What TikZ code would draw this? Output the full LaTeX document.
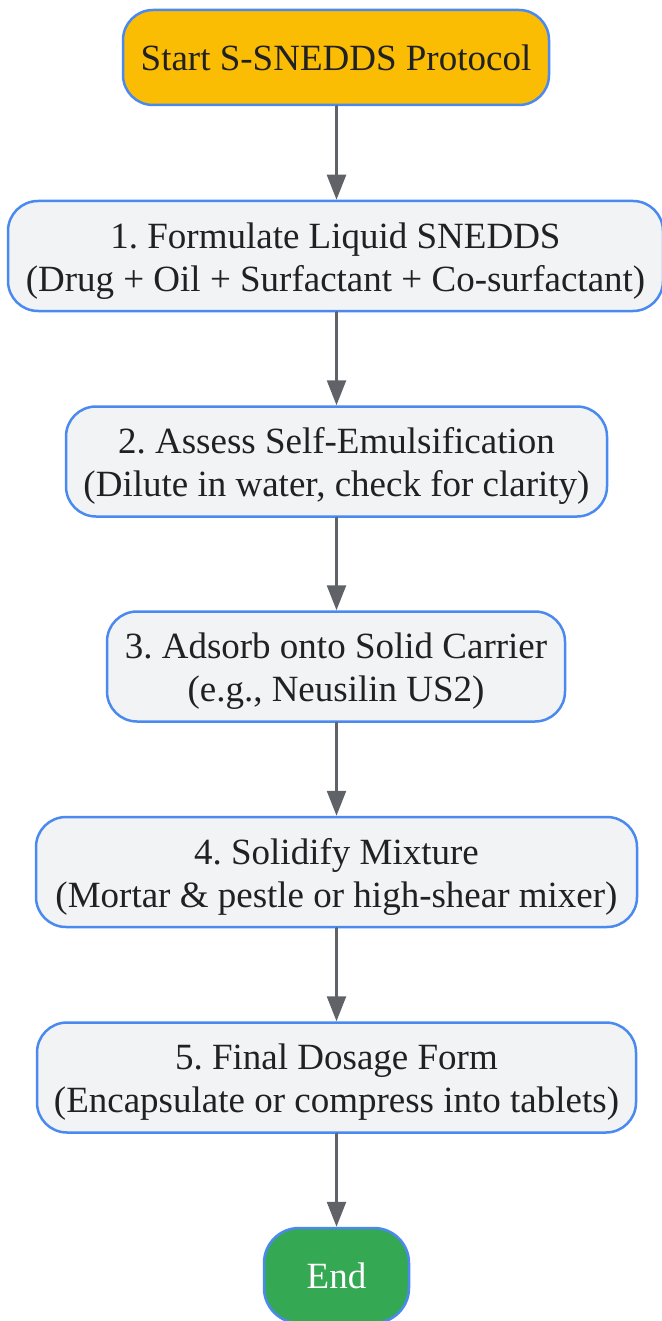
\documentclass[tikz,border=0pt]{standalone}
\usepackage{fontspec}
\setmainfont{Liberation Serif}
\usetikzlibrary{arrows.meta}
\definecolor{edgeblue}{HTML}{4A8AF0}
\definecolor{startyellow}{HTML}{FBBC04}
\definecolor{stepgray}{HTML}{F1F3F4}
\definecolor{endgreen}{HTML}{34A853}
\definecolor{linkgray}{HTML}{5F6368}
\definecolor{txt}{HTML}{202124}
\frenchspacing
\begin{document}
\begin{tikzpicture}[x=1pt, y=1pt, font=\fontsize{37}{43}\selectfont, line join=round, line cap=round,
	>={Triangle[length=25pt, width=19pt]},
	box/.style={draw=edgeblue, line width=2.5pt, rounded corners=30pt, inner sep=0pt, align=center, text=txt},
	stepbox/.style={box, fill=stepgray, minimum height=110pt, execute at begin node={\rule{0pt}{78pt}}},
	link/.style={->, draw=linkgray, fill=linkgray, line width=2.5pt}]
	\useasboundingbox (0,0) rectangle (661,-1321);
	\node[box, fill=startyellow, minimum width=426pt, minimum height=95pt] (start) at (336,-57.5) {Start S-SNEDDS Protocol};
	\node[stepbox, minimum width=655pt] (formulate) at (335.5,-256) {1. Formulate Liquid SNEDDS\\(Drug + Oil + Surfactant + Co-surfactant)};
	\node[stepbox, minimum width=541pt] (assess) at (336.5,-461.5) {2. Assess Self-Emulsification\\(Dilute in water, check for clarity)};
	\node[stepbox, minimum width=458pt] (adsorb) at (336,-666.5) {3. Adsorb onto Solid Carrier\\(e.g., Neusilin US2)};
	\node[stepbox, minimum width=601pt] (solidify) at (336.5,-872) {4. Solidify Mixture\\(Mortar \& pestle or high-shear mixer)};
	\node[stepbox, minimum width=599pt] (dosage) at (336.5,-1077.5) {5. Final Dosage Form\\(Encapsulate or compress into tablets)};
	\node[box, fill=endgreen, text=white, rounded corners=35pt, minimum width=145pt, minimum height=95pt] (end) at (336.5,-1275.5) {End};
	% connectors
	\draw[link] (start.south -| end) -- (formulate.north -| end);
	\draw[link] (formulate.south -| end) -- (assess.north -| end);
	\draw[link] (assess.south -| end) -- (adsorb.north -| end);
	\draw[link] (adsorb.south -| end) -- (solidify.north -| end);
	\draw[link] (solidify.south -| end) -- (dosage.north -| end);
	\draw[link] (dosage.south) -- (end.north);
\end{tikzpicture}
\end{document}
